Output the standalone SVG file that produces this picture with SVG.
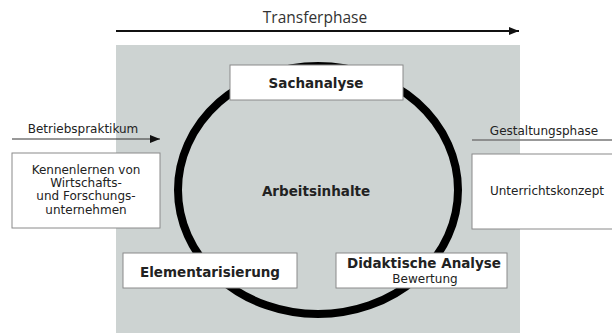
<svg xmlns="http://www.w3.org/2000/svg" width="612" height="333" viewBox="0 0 612 333">
<defs>
<marker id="ah" markerWidth="10" markerHeight="8" refX="10" refY="4" orient="auto" markerUnits="userSpaceOnUse">
<path d="M0,0 L10,4 L0,8 Z" fill="#111"/>
</marker>
<style>
.box{fill:#fff;stroke:#8a8a8a;stroke-width:1}
.t{font-family:"DejaVu Sans",Verdana,sans-serif;fill:#222;text-anchor:middle}
.b{font-weight:bold;font-size:13.5px}
.n{font-size:12px}
.lab{font-family:"Open Sans","DejaVu Sans",sans-serif;fill:#333;text-anchor:middle}
</style>
</defs>
<rect x="116" y="45" width="404" height="288" fill="#cdd3d2"/>
<g id="connectors">
<line x1="116" y1="31" x2="519" y2="31" stroke="#111" stroke-width="2" marker-end="url(#ah)"/>
<line x1="12" y1="139" x2="160" y2="139" stroke="#333" stroke-width="1" marker-end="url(#ah)"/>
<line x1="472" y1="140" x2="612" y2="140" stroke="#777" stroke-width="1.3"/>
</g>
<g id="transferphase"><text class="lab" x="315" y="23" font-size="15.5">Transferphase</text></g>
<g id="betriebspraktikum"><text class="t" x="83" y="133" font-size="12" fill="#333">Betriebspraktikum</text></g>
<g id="gestaltungsphase"><text class="t" x="544" y="135" font-size="12" fill="#333">Gestaltungsphase</text></g>
<g id="cycle"><ellipse cx="318" cy="190" rx="140" ry="124" fill="none" stroke="#000" stroke-width="8"/></g>
<g id="arbeitsinhalte"><text class="t b" x="316" y="196">Arbeitsinhalte</text></g>
<g id="sachanalyse">
<rect class="box" x="230" y="65" width="173" height="35"/>
<text class="t b" x="316" y="88">Sachanalyse</text>
</g>
<g id="elementarisierung">
<rect class="box" x="123" y="253" width="174" height="35"/>
<text class="t b" x="210" y="277">Elementarisierung</text>
</g>
<g id="didaktische">
<rect class="box" x="336" y="253" width="171" height="35"/>
<text class="t b" x="424" y="268">Didaktische Analyse</text>
<text class="t n" x="425" y="283">Bewertung</text>
</g>
<g id="kennenlernen">
<rect class="box" x="12" y="153" width="148" height="75"/>
<text class="t n" x="86" y="174">Kennenlernen von</text>
<text class="t n" x="86" y="187">Wirtschafts-</text>
<text class="t n" x="86" y="200">und Forschungs-</text>
<text class="t n" x="86" y="214">unternehmen</text>
</g>
<g id="unterrichtskonzept">
<rect class="box" x="472" y="154" width="150" height="75"/>
<text class="t n" x="547" y="195">Unterrichtskonzept</text>
</g>
</svg>
